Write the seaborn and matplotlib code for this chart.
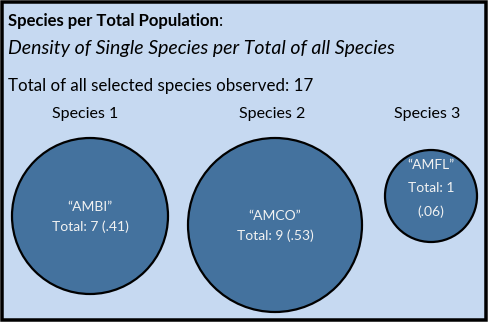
import matplotlib
matplotlib.use("Agg")
import matplotlib.pyplot as plt
import seaborn as sns
import pandas as pd
from matplotlib.patches import Rectangle

sns.set_theme(style="white")
plt.rcParams['font.family'] = ['Lato', 'DejaVu Sans']

# ---- data ----
species_labels = ["Species 1", "Species 2", "Species 3"]
codes = ["AMBI", "AMCO", "AMFL"]
counts = [7, 9, 1]
title = "Species per Total Population"
subtitle = "Density of Single Species per Total of all Species"

total = sum(counts)

# ---- layout (pixel coordinates) ----
W, H = 488, 322
cx = [90, 275, 431]
cy = [216, 225, 196]
radii = [78, 87, 46]
label_y = 114
DPI = 100

BG = "#C6D9F1"
FILL = "#44729E"

fig = plt.figure(figsize=(W / DPI, H / DPI), dpi=DPI)
ax = fig.add_axes([0, 0, 1, 1])
ax.set_xlim(0, W)
ax.set_ylim(H, 0)
ax.axis("off")

ax.add_patch(Rectangle((1.75, 1.75), W - 3.5, H - 3.5, facecolor=BG,
                       edgecolor="black", linewidth=3.5 * 72 / DPI, zorder=0))

df = pd.DataFrame({"x": cx, "y": cy, "code": codes, "count": counts})
size_map = {c: (2 * r * 72 / DPI) ** 2 for c, r in zip(counts, radii)}
sns.scatterplot(data=df, x="x", y="y", size="count", sizes=size_map,
                color=FILL, edgecolor="black", linewidth=1.6, alpha=1,
                legend=False, ax=ax, zorder=2)

t = ax.text(8, 21, title, fontsize=12.0, fontweight="bold", color="black",
            va="center", ha="left")
ax.annotate(":", xy=(1, 0), xycoords=t, va="bottom", ha="left",
            fontsize=12.0, color="black")
ax.text(8, 48, subtitle, fontsize=14.0, fontstyle="italic", color="black",
        va="center", ha="left")
ax.text(8, 86, f"Total of all selected species observed: {total}",
        fontsize=12.15, color="black", va="center", ha="left")

label_x = [85, 272, 427]
for lx, lab in zip(label_x, species_labels):
    ax.text(lx, label_y, lab, fontsize=11.5, color="black",
            ha="center", va="center")

TXT = "#F2F2F2"
for i, (x, y, code, c) in enumerate(zip(cx, cy, codes, counts)):
    share = f"{c / total:.2f}"[1:]
    if i < 2:
        ax.text(x, y - 9, f"\u201c{code}\u201d", fontsize=10, color=TXT,
                ha="center", va="center", zorder=3)
        ax.text(x, y + 11, f"Total: {c} ({share})", fontsize=10, color=TXT,
                ha="center", va="center", zorder=3)
    else:
        ax.text(x, y - 31, f"\u201c{code}\u201d", fontsize=10, color=TXT,
                ha="center", va="center", zorder=3)
        ax.text(x, y - 8, f"Total: {c}", fontsize=10, color=TXT,
                ha="center", va="center", zorder=3)
        ax.text(x, y + 16, f"({share})", fontsize=10, color=TXT,
                ha="center", va="center", zorder=3)

fig.savefig("out.png", dpi=DPI)
